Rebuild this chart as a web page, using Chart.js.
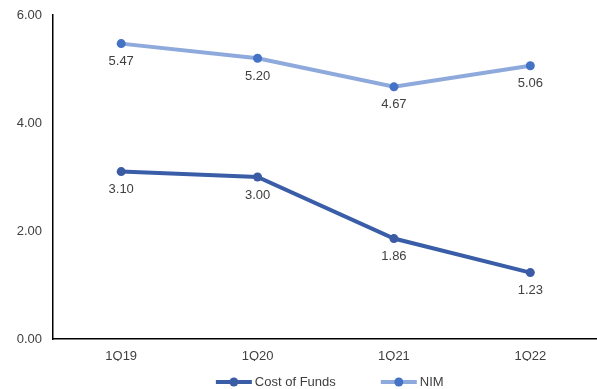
<!DOCTYPE html>
<html>
<head>
<meta charset="utf-8">
<script src="https://cdn.jsdelivr.net/npm/chart.js@4/dist/chart.umd.min.js"></script>
<style>
  html, body { margin: 0; padding: 0; background: #fff; overflow: hidden; }
  #wrap { width: 603px; height: 389px; }
</style>
</head>
<body>
<div id="wrap"><canvas id="c" width="603" height="389"></canvas></div>
<script>
// Quarterly rates (%)
const quarters = ['1Q19', '1Q20', '1Q21', '1Q22'];
const costOfFunds = [3.10, 3.00, 1.86, 1.23];
const nim = [5.47, 5.20, 4.67, 5.06];
const yTicks = [0, 2, 4, 6];

const FONT = '"Liberation Sans", Arial, sans-serif';
const TEXT = '#404040';

// Value labels drawn just below each point
const valueLabels = {
  id: 'valueLabels',
  afterDatasetsDraw(chart) {
    const ctx = chart.ctx;
    ctx.save();
    ctx.font = '13px ' + FONT;
    ctx.fillStyle = TEXT;
    ctx.textAlign = 'center';
    ctx.textBaseline = 'middle';
    chart.data.datasets.forEach((ds, i) => {
      chart.getDatasetMeta(i).data.forEach((pt, j) => {
        ctx.fillText(ds.data[j].toFixed(2), pt.x, pt.y + 18);
      });
    });
    ctx.restore();
  }
};

// Legend with line-and-marker swatches, centred under the plot
const lineLegend = {
  id: 'lineLegend',
  afterDraw(chart) {
    const ctx = chart.ctx;
    const area = chart.chartArea;
    const sw = 36, gapText = 3, gapItem = 45;
    ctx.save();
    ctx.font = '13px ' + FONT;
    const items = chart.data.datasets.map(ds => ({ ds, w: ctx.measureText(ds.label).width }));
    const total = items.reduce((s, it) => s + sw + gapText + it.w, 0) + gapItem * (items.length - 1);
    let x = (area.left + area.right) / 2 + 4 - total / 2;
    const y = 382;
    items.forEach(it => {
      ctx.strokeStyle = it.ds.borderColor;
      ctx.lineWidth = 4;
      ctx.beginPath();
      ctx.moveTo(x, y);
      ctx.lineTo(x + sw, y);
      ctx.stroke();
      ctx.fillStyle = it.ds.pointBackgroundColor;
      ctx.beginPath();
      ctx.arc(x + sw / 2, y, 4.5, 0, Math.PI * 2);
      ctx.fill();
      ctx.fillStyle = TEXT;
      ctx.textAlign = 'left';
      ctx.textBaseline = 'middle';
      ctx.fillText(it.ds.label, x + sw + gapText, y);
      x += sw + gapText + it.w + gapItem;
    });
    ctx.restore();
  }
};

new Chart(document.getElementById('c'), {
  type: 'line',
  data: {
    labels: quarters,
    datasets: [
      {
        label: 'Cost of Funds',
        data: costOfFunds,
        borderColor: '#3A5DA8',
        borderWidth: 4,
        pointBackgroundColor: '#3B5CA5',
        pointBorderColor: '#3B5CA5',
        pointRadius: 4.5,
        pointBorderWidth: 0,
        tension: 0,
        fill: false
      },
      {
        label: 'NIM',
        data: nim,
        borderColor: '#8EA9DB',
        borderWidth: 4,
        pointBackgroundColor: '#4472C4',
        pointBorderColor: '#4472C4',
        pointRadius: 4.5,
        pointBorderWidth: 0,
        tension: 0,
        fill: false
      }
    ]
  },
  options: {
    responsive: false,
    animation: false,
    devicePixelRatio: 1,
    layout: { padding: { top: 15, bottom: 28, left: 0, right: 0 } },
    plugins: {
      legend: { display: false },
      tooltip: { enabled: false }
    },
    scales: {
      x: {
        offset: true,
        grid: { display: false, drawTicks: false, tickLength: 0 },
        border: { display: true, color: '#000', width: 1.5 },
        ticks: { padding: 10, color: TEXT, font: { family: FONT, size: 13 } },
        afterFit(scale) { scale.height = 22; }
      },
      y: {
        min: yTicks[0],
        max: yTicks[yTicks.length - 1],
        afterBuildTicks(scale) { scale.ticks = yTicks.map(v => ({ value: v })); },
        grid: { display: false, drawTicks: false, tickLength: 0 },
        border: { display: true, color: '#000', width: 1.5 },
        ticks: {
          padding: 11,
          color: TEXT,
          font: { family: FONT, size: 13 },
          callback: v => Number(v).toFixed(2)
        },
        afterFit(scale) {
          scale.width = 53;
          scale.paddingTop = 0;
          scale.paddingBottom = 0;
        }
      }
    }
  },
  plugins: [valueLabels, lineLegend]
});
</script>
</body>
</html>
